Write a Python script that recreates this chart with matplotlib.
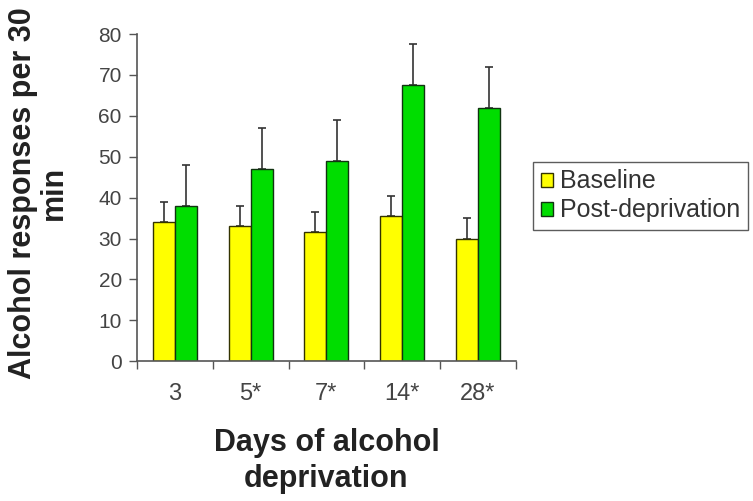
import numpy as np
import matplotlib.pyplot as plt

plt.rcParams['font.family'] = ['Liberation Sans', 'DejaVu Sans']

days = ["3", "5*", "7*", "14*", "28*"]
baseline = [34, 33, 31.5, 35.5, 30]
baseline_err = [5, 5, 5, 5, 5]
post = [38, 47, 49, 67.5, 62]
post_err = [10, 10, 10, 10, 10]

fig = plt.figure(figsize=(7.53, 5.01), dpi=100)
ax = fig.add_axes([0.182, 0.279, 0.503, 0.653])

x = np.arange(len(days)) + 0.5
w = 0.29
zeros = [0] * len(days)

ax.bar(x - w / 2, baseline, w, color="#ffff00", edgecolor="#333300", linewidth=1,
       label="Baseline", zorder=2)
ax.bar(x + w / 2, post, w, color="#00dd00", edgecolor="#113311", linewidth=1,
       label="Post-deprivation", zorder=2)
ax.errorbar(x - w / 2, baseline, yerr=[zeros, baseline_err], fmt="none",
            ecolor="#333333", elinewidth=1.2, capsize=3, capthick=1.2, zorder=1)
ax.errorbar(x + w / 2, post, yerr=[zeros, post_err], fmt="none",
            ecolor="#333333", elinewidth=1.2, capsize=3, capthick=1.2, zorder=1)

ax.set_xlim(0, 5)
ax.set_ylim(0, 80)
ax.set_yticks(range(0, 81, 10))
ax.set_xticks(range(0, 6))
ax.set_xticklabels([])
ax.set_xticks(x, minor=True)
ax.set_xticklabels(days, minor=True)
ax.tick_params(axis="x", which="minor", length=0, pad=16, labelsize=17, labelcolor="#444444")
ax.tick_params(axis="x", which="major", length=6, width=1, color="#555555")
ax.tick_params(axis="y", length=6, width=1, color="#555555", labelsize=15,
               labelcolor="#444444", pad=5)

for s in ["top", "right"]:
    ax.spines[s].set_visible(False)
for s in ["left", "bottom"]:
    ax.spines[s].set_color("#555555")
    ax.spines[s].set_linewidth(1.2)

ax.set_ylabel("Alcohol responses per 30\nmin", fontsize=22, fontweight="bold",
              color="#222222", linespacing=1.04)
ax.yaxis.set_label_coords(-0.179, 0.515)
ax.set_xlabel("Days of alcohol\ndeprivation", fontsize=22, fontweight="bold",
              color="#222222", linespacing=1.25)
ax.xaxis.set_label_coords(0.5, -0.205)

leg = fig.legend(loc="upper left", bbox_to_anchor=(533 / 753, 1 - 162 / 501), fontsize=18,
                 frameon=True, fancybox=False, edgecolor="#333333",
                 handlelength=0.5, handleheight=0.5, handletextpad=0.3,
                 borderpad=0.3, labelspacing=0.2, borderaxespad=0)
leg.get_frame().set_linewidth(1)
for t in leg.get_texts():
    t.set_color("#333333")

fig.savefig("out.png", dpi=100)
